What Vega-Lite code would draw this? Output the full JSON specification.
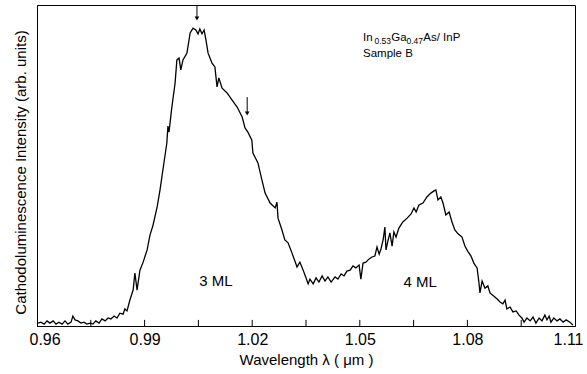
{
  "$schema": "https://vega.github.io/schema/vega-lite/v6.json",
  "width": 538,
  "height": 321,
  "autosize": "none",
  "padding": {"left": 37, "top": 5, "right": 12, "bottom": 48},
  "background": "white",
  "config": {
    "view": {"stroke": "black", "strokeWidth": 1},
    "font": "Liberation Sans",
    "axis": {"grid": false, "labelColor": "black", "titleColor": "black", "domainColor": "black", "tickColor": "black", "titleFontWeight": "normal"}
  },
  "datasets": {
    "ticks": [
      {"t": 0.975}, {"t": 0.99}, {"t": 1.005}, {"t": 1.02}, {"t": 1.035}, {"t": 1.05}, {"t": 1.065}, {"t": 1.08}, {"t": 1.095}
    ],
    "spectrum": [
      {"wl": 0.9603, "cl": 0.9}, {"wl": 0.9611, "cl": 1.2}, {"wl": 0.9620, "cl": 0.6}, {"wl": 0.9628, "cl": 1.6},
      {"wl": 0.9636, "cl": 0.9}, {"wl": 0.9645, "cl": 1.6}, {"wl": 0.9653, "cl": 0.6}, {"wl": 0.9661, "cl": 1.2},
      {"wl": 0.9670, "cl": 0.6}, {"wl": 0.9678, "cl": 1.6}, {"wl": 0.9686, "cl": 0.6}, {"wl": 0.9695, "cl": 1.2},
      {"wl": 0.9700, "cl": 3.1}, {"wl": 0.9706, "cl": 1.9}, {"wl": 0.9714, "cl": 1.6}, {"wl": 0.9723, "cl": 0.9},
      {"wl": 0.9731, "cl": 1.2}, {"wl": 0.9739, "cl": 0.6}, {"wl": 0.9748, "cl": 0.9}, {"wl": 0.9756, "cl": 0.6},
      {"wl": 0.9764, "cl": 1.6}, {"wl": 0.9773, "cl": 0.9}, {"wl": 0.9781, "cl": 2.2}, {"wl": 0.9790, "cl": 1.6},
      {"wl": 0.9798, "cl": 2.5}, {"wl": 0.9806, "cl": 2.2}, {"wl": 0.9815, "cl": 3.1}, {"wl": 0.9823, "cl": 2.5},
      {"wl": 0.9831, "cl": 4.0}, {"wl": 0.9840, "cl": 3.7}, {"wl": 0.9845, "cl": 5.3}, {"wl": 0.9851, "cl": 4.7},
      {"wl": 0.9859, "cl": 8.1}, {"wl": 0.9868, "cl": 11.2}, {"wl": 0.9873, "cl": 16.5}, {"wl": 0.9879, "cl": 11.2},
      {"wl": 0.9887, "cl": 17.4}, {"wl": 0.9896, "cl": 19.9}, {"wl": 0.9907, "cl": 23.7}, {"wl": 0.9915, "cl": 28.3},
      {"wl": 0.9923, "cl": 31.2}, {"wl": 0.9935, "cl": 37.1}, {"wl": 0.9943, "cl": 42.4}, {"wl": 0.9951, "cl": 48.6},
      {"wl": 0.9962, "cl": 57.0}, {"wl": 0.9965, "cl": 62.3}, {"wl": 0.9968, "cl": 60.4}, {"wl": 0.9976, "cl": 68.2},
      {"wl": 0.9985, "cl": 75.7}, {"wl": 0.9990, "cl": 82.9}, {"wl": 0.9996, "cl": 83.5}, {"wl": 1.0001, "cl": 79.8},
      {"wl": 1.0007, "cl": 82.9}, {"wl": 1.0018, "cl": 85.0}, {"wl": 1.0027, "cl": 91.3}, {"wl": 1.0035, "cl": 92.8},
      {"wl": 1.0043, "cl": 92.2}, {"wl": 1.0049, "cl": 91.0}, {"wl": 1.0054, "cl": 92.5}, {"wl": 1.0060, "cl": 91.0},
      {"wl": 1.0066, "cl": 92.2}, {"wl": 1.0071, "cl": 89.1}, {"wl": 1.0077, "cl": 85.0}, {"wl": 1.0088, "cl": 81.9},
      {"wl": 1.0096, "cl": 80.7}, {"wl": 1.0102, "cl": 74.5}, {"wl": 1.0107, "cl": 77.3}, {"wl": 1.0116, "cl": 74.1},
      {"wl": 1.0130, "cl": 72.6}, {"wl": 1.0144, "cl": 70.4}, {"wl": 1.0158, "cl": 68.2}, {"wl": 1.0172, "cl": 65.1},
      {"wl": 1.0180, "cl": 61.7}, {"wl": 1.0188, "cl": 60.4}, {"wl": 1.0199, "cl": 57.9}, {"wl": 1.0202, "cl": 53.9},
      {"wl": 1.0216, "cl": 50.8}, {"wl": 1.0227, "cl": 45.5}, {"wl": 1.0236, "cl": 41.4}, {"wl": 1.0250, "cl": 38.3},
      {"wl": 1.0264, "cl": 36.8}, {"wl": 1.0269, "cl": 38.6}, {"wl": 1.0272, "cl": 33.6}, {"wl": 1.0283, "cl": 29.9},
      {"wl": 1.0291, "cl": 26.8}, {"wl": 1.0300, "cl": 25.9}, {"wl": 1.0311, "cl": 22.7}, {"wl": 1.0325, "cl": 18.4},
      {"wl": 1.0333, "cl": 19.9}, {"wl": 1.0342, "cl": 17.4}, {"wl": 1.0350, "cl": 15.0}, {"wl": 1.0356, "cl": 13.1},
      {"wl": 1.0361, "cl": 14.6}, {"wl": 1.0370, "cl": 13.1}, {"wl": 1.0378, "cl": 15.0}, {"wl": 1.0386, "cl": 13.7},
      {"wl": 1.0395, "cl": 15.6}, {"wl": 1.0403, "cl": 14.0}, {"wl": 1.0411, "cl": 15.3}, {"wl": 1.0420, "cl": 13.7},
      {"wl": 1.0431, "cl": 15.3}, {"wl": 1.0439, "cl": 14.6}, {"wl": 1.0448, "cl": 16.2}, {"wl": 1.0456, "cl": 15.6},
      {"wl": 1.0464, "cl": 17.1}, {"wl": 1.0473, "cl": 17.4}, {"wl": 1.0481, "cl": 18.7}, {"wl": 1.0489, "cl": 18.1},
      {"wl": 1.0498, "cl": 19.0}, {"wl": 1.0503, "cl": 14.6}, {"wl": 1.0509, "cl": 19.6}, {"wl": 1.0517, "cl": 19.9},
      {"wl": 1.0526, "cl": 20.9}, {"wl": 1.0534, "cl": 21.5}, {"wl": 1.0542, "cl": 21.8}, {"wl": 1.0548, "cl": 24.6},
      {"wl": 1.0554, "cl": 22.4}, {"wl": 1.0559, "cl": 24.0}, {"wl": 1.0565, "cl": 26.8}, {"wl": 1.0570, "cl": 30.8},
      {"wl": 1.0573, "cl": 23.7}, {"wl": 1.0579, "cl": 26.8}, {"wl": 1.0584, "cl": 29.0}, {"wl": 1.0590, "cl": 24.9},
      {"wl": 1.0595, "cl": 29.3}, {"wl": 1.0601, "cl": 27.7}, {"wl": 1.0609, "cl": 30.5}, {"wl": 1.0620, "cl": 32.4},
      {"wl": 1.0632, "cl": 33.6}, {"wl": 1.0643, "cl": 34.9}, {"wl": 1.0651, "cl": 36.8}, {"wl": 1.0657, "cl": 35.5},
      {"wl": 1.0665, "cl": 37.7}, {"wl": 1.0676, "cl": 38.3}, {"wl": 1.0687, "cl": 40.2}, {"wl": 1.0698, "cl": 41.4},
      {"wl": 1.0707, "cl": 42.1}, {"wl": 1.0712, "cl": 42.4}, {"wl": 1.0718, "cl": 39.3}, {"wl": 1.0726, "cl": 40.2},
      {"wl": 1.0732, "cl": 38.3}, {"wl": 1.0740, "cl": 34.6}, {"wl": 1.0749, "cl": 35.5}, {"wl": 1.0757, "cl": 32.4},
      {"wl": 1.0765, "cl": 29.9}, {"wl": 1.0774, "cl": 28.7}, {"wl": 1.0785, "cl": 27.7}, {"wl": 1.0793, "cl": 24.9},
      {"wl": 1.0802, "cl": 23.1}, {"wl": 1.0810, "cl": 21.8}, {"wl": 1.0818, "cl": 19.6}, {"wl": 1.0827, "cl": 18.1},
      {"wl": 1.0832, "cl": 13.7}, {"wl": 1.0835, "cl": 10.3}, {"wl": 1.0841, "cl": 14.0}, {"wl": 1.0849, "cl": 11.8},
      {"wl": 1.0857, "cl": 12.5}, {"wl": 1.0863, "cl": 10.3}, {"wl": 1.0874, "cl": 9.3}, {"wl": 1.0883, "cl": 8.4},
      {"wl": 1.0891, "cl": 7.5}, {"wl": 1.0899, "cl": 6.9}, {"wl": 1.0905, "cl": 8.1}, {"wl": 1.0910, "cl": 5.3},
      {"wl": 1.0919, "cl": 5.9}, {"wl": 1.0927, "cl": 4.4}, {"wl": 1.0936, "cl": 4.7}, {"wl": 1.0944, "cl": 3.4},
      {"wl": 1.0952, "cl": 2.5}, {"wl": 1.0958, "cl": 1.2}, {"wl": 1.0966, "cl": 2.5}, {"wl": 1.0975, "cl": 1.6},
      {"wl": 1.0983, "cl": 2.8}, {"wl": 1.0991, "cl": 0.9}, {"wl": 1.1000, "cl": 2.5}, {"wl": 1.1008, "cl": 1.6},
      {"wl": 1.1016, "cl": 3.4}, {"wl": 1.1022, "cl": 1.9}, {"wl": 1.1028, "cl": 3.1}, {"wl": 1.1033, "cl": 1.2},
      {"wl": 1.1041, "cl": 2.5}, {"wl": 1.1050, "cl": 1.6}, {"wl": 1.1058, "cl": 2.2}, {"wl": 1.1067, "cl": 1.2},
      {"wl": 1.1075, "cl": 1.9}, {"wl": 1.1086, "cl": 1.2}, {"wl": 1.1094, "cl": 0.3}
    ],
    "one": [{"k": 1}]
  },
  "layer": [
    {
      "data": {"name": "spectrum"},
      "mark": {"type": "line", "color": "black", "strokeWidth": 1.3, "interpolate": "linear"},
      "encoding": {
        "x": {
          "field": "wl", "type": "quantitative",
          "scale": {"domain": [0.96, 1.11], "nice": false, "zero": false},
          "axis": {
            "title": "Wavelength λ ( μm )",
            "titleFontSize": 15, "titlePadding": 5,
            "values": [0.96, 0.99, 1.02, 1.05, 1.08, 1.11],
            "format": ".2f",
            "labelFontSize": 16, "labelPadding": 5, "labelFlush": true, "labelFlushOffset": 8,
            "ticks": false, "domainWidth": 1
          }
        },
        "y": {
          "field": "cl", "type": "quantitative",
          "scale": {"domain": [0, 100], "nice": false},
          "axis": {
            "title": "Cathodoluminescence Intensity (arb. units)",
            "titleFontSize": 15, "titlePadding": 9, "titleY": 167,
            "labels": false, "ticks": false, "domain": true, "domainWidth": 1
          }
        }
      }
    },
    {
      "data": {"name": "ticks"},
      "mark": {"type": "rule", "color": "black", "strokeWidth": 1},
      "encoding": {"x": {"field": "t", "type": "quantitative"}, "y": {"datum": 0}, "y2": {"datum": 1.9}}
    },
    {
      "data": {"name": "one"},
      "mark": {"type": "rule", "color": "black", "strokeWidth": 1},
      "encoding": {"x": {"datum": 1.0046}, "y": {"datum": 100}, "y2": {"datum": 96}}
    },
    {
      "data": {"name": "one"},
      "mark": {"type": "point", "shape": "triangle-down", "filled": true, "color": "black", "size": 22, "opacity": 1},
      "encoding": {"x": {"datum": 1.0046}, "y": {"datum": 95.8}}
    },
    {
      "data": {"name": "one"},
      "mark": {"type": "rule", "color": "black", "strokeWidth": 1},
      "encoding": {"x": {"datum": 1.0186}, "y": {"datum": 71.3}, "y2": {"datum": 66.5}}
    },
    {
      "data": {"name": "one"},
      "mark": {"type": "point", "shape": "triangle-down", "filled": true, "color": "black", "size": 22, "opacity": 1},
      "encoding": {"x": {"datum": 1.0186}, "y": {"datum": 66.2}}
    },
    {
      "data": {"name": "one"},
      "mark": {"type": "text", "fontSize": 15, "align": "center", "baseline": "alphabetic", "color": "black"},
      "encoding": {"x": {"datum": 1.0099}, "y": {"datum": 12.5}, "text": {"value": "3 ML"}}
    },
    {
      "data": {"name": "one"},
      "mark": {"type": "text", "fontSize": 15, "align": "center", "baseline": "alphabetic", "color": "black"},
      "encoding": {"x": {"datum": 1.0668}, "y": {"datum": 12.2}, "text": {"value": "4 ML"}}
    },
    {
      "data": {"name": "one"},
      "mark": {"type": "text", "fontSize": 11.5, "align": "left", "baseline": "alphabetic", "color": "black"},
      "encoding": {"x": {"datum": 1.0509}, "y": {"datum": 88.8}, "text": {"value": "In"}}
    },
    {
      "data": {"name": "one"},
      "mark": {"type": "text", "fontSize": 8.5, "align": "left", "baseline": "alphabetic", "color": "black"},
      "encoding": {"x": {"datum": 1.0541}, "y": {"datum": 87.7}, "text": {"value": "0.53"}}
    },
    {
      "data": {"name": "one"},
      "mark": {"type": "text", "fontSize": 11.5, "align": "left", "baseline": "alphabetic", "color": "black"},
      "encoding": {"x": {"datum": 1.0588}, "y": {"datum": 88.8}, "text": {"value": "Ga"}}
    },
    {
      "data": {"name": "one"},
      "mark": {"type": "text", "fontSize": 8.5, "align": "left", "baseline": "alphabetic", "color": "black"},
      "encoding": {"x": {"datum": 1.0630}, "y": {"datum": 87.7}, "text": {"value": "0.47"}}
    },
    {
      "data": {"name": "one"},
      "mark": {"type": "text", "fontSize": 11.5, "align": "left", "baseline": "alphabetic", "color": "black"},
      "encoding": {"x": {"datum": 1.0677}, "y": {"datum": 88.8}, "text": {"value": "As/ InP"}}
    },
    {
      "data": {"name": "one"},
      "mark": {"type": "text", "fontSize": 11.5, "align": "left", "baseline": "alphabetic", "color": "black"},
      "encoding": {"x": {"datum": 1.0509}, "y": {"datum": 83.9}, "text": {"value": "Sample B"}}
    }
  ]
}
